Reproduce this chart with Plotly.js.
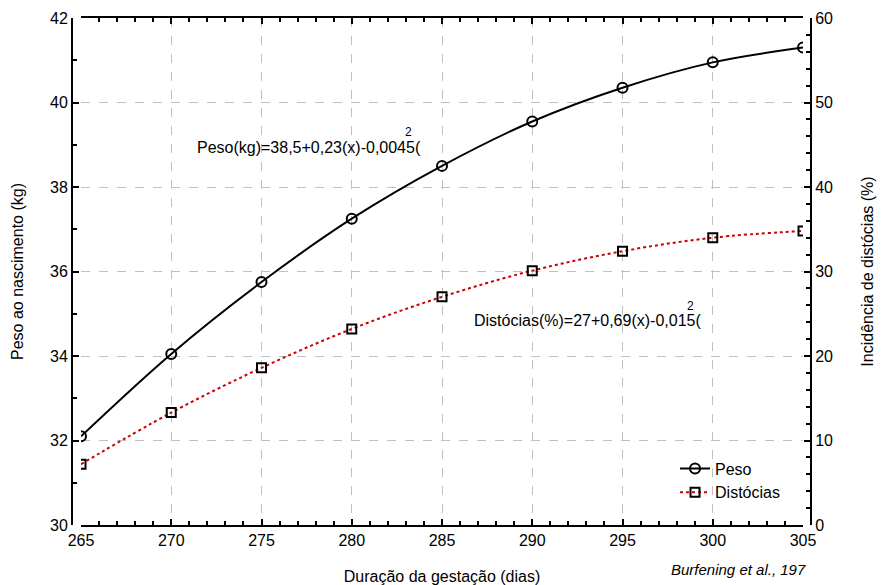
<!DOCTYPE html>
<html>
<head>
<meta charset="utf-8">
<script src="https://cdn.plot.ly/plotly-3.0.1.min.js"></script>
<style>html,body{margin:0;padding:0;background:#fff;}#chart{width:882px;height:585px;}</style>
</head>
<body>
<div id="chart"></div>
<script>
// Data
const dias = [265, 270, 275, 280, 285, 290, 295, 300, 305];
const peso = [32.1, 34.05, 35.75, 37.25, 38.5, 39.55, 40.35, 40.95, 41.3];
const distocias = [7.2, 13.3, 18.6, 23.2, 27.0, 30.1, 32.4, 34.0, 34.8];
const serieNomes = ['Peso', 'Distócias'];
const eqPeso = 'Peso(kg)=38,5+0,23(x)-0,0045(';
const eqDist = 'Distócias(%)=27+0,69(x)-0,015(';
const fonte = 'Burfening et al., 197';

const FONT = 'Liberation Sans, Arial, Helvetica, sans-serif';
const W = 882, H = 585;
const L = 72, R = 71, T = 18, B = 60;
const pw = W - L - R;

const traces = [
  {
    x: dias, y: peso, name: serieNomes[0], type: 'scatter', mode: 'lines+markers',
    line: {color: '#000000', width: 2, shape: 'spline'},
    marker: {symbol: 'circle-open', size: 10, color: '#000000', line: {width: 2, color: '#000000'}}
  },
  {
    x: dias, y: distocias, name: serieNomes[1], type: 'scatter', mode: 'lines+markers', yaxis: 'y2',
    line: {color: '#cc0000', width: 2, dash: 'dot', shape: 'spline'},
    marker: {symbol: 'square-open', size: 9, color: '#000000', line: {width: 2, color: '#000000'}}
  }
];

const axisCommon = {
  showline: true, linecolor: '#000000', linewidth: 2,
  ticks: 'inside', ticklen: 6, tickwidth: 2, tickcolor: '#000000',
  tickfont: {family: FONT, size: 16, color: '#000'},
  zeroline: false
};

const layout = {
  width: W, height: H,
  margin: {l: L, r: R, t: T, b: B, pad: 0},
  paper_bgcolor: '#fff', plot_bgcolor: '#fff',
  font: {family: FONT, size: 16, color: '#000'},
  showlegend: true,
  legend: {
    x: 0.816, y: 0.145, xanchor: 'left', yanchor: 'top',
    bgcolor: 'rgba(0,0,0,0)', borderwidth: 0,
    font: {family: FONT, size: 16, color: '#000'},
    tracegroupgap: 0, itemwidth: 30
  },
  xaxis: Object.assign({}, axisCommon, {
    domain: [9 / pw, 1 - 8 / pw],
    range: [265, 305], dtick: 5, tick0: 265,
    mirror: 'ticks',
    showgrid: true, gridcolor: '#c0c0c0', gridwidth: 1, griddash: 'dash',
    minor: {dtick: 1, ticks: 'inside', ticklen: 4, tickwidth: 2, tickcolor: '#000000', showgrid: false},
    title: {text: 'Duração da gestação (dias)', font: {family: FONT, size: 16, color: '#000'}, standoff: 23}
  }),
  yaxis: Object.assign({}, axisCommon, {
    anchor: 'free', position: 0, side: 'left',
    range: [30, 42], dtick: 2, tick0: 30,
    showgrid: true, gridcolor: '#c0c0c0', gridwidth: 1, griddash: 'dash',
    minor: {dtick: 1, ticks: 'inside', ticklen: 4, tickwidth: 2, tickcolor: '#000000', showgrid: false},
    title: {text: 'Peso ao nascimento (kg)', font: {family: FONT, size: 16, color: '#000'}, standoff: 21}
  }),
  yaxis2: Object.assign({}, axisCommon, {
    anchor: 'free', position: 1, side: 'right', overlaying: 'y',
    range: [0, 60], dtick: 10, tick0: 0,
    showgrid: false,
    minor: {dtick: 2, ticks: 'inside', ticklen: 4, tickwidth: 2, tickcolor: '#000000', showgrid: false},
    title: {text: 'Incidência de distócias (%)', font: {family: FONT, size: 16, color: '#000'}, standoff: 29}
  }),
  annotations: [
    {xref: 'x', yref: 'y', x: 271.3, y: 38.94, xanchor: 'left', yanchor: 'middle', text: eqPeso, showarrow: false,
     font: {family: FONT, size: 16, color: '#000'}},
    {xref: 'x', yref: 'y', x: 283.17, y: 39.3, xanchor: 'center', yanchor: 'middle', text: '2', showarrow: false,
     font: {family: FONT, size: 12, color: '#000'}},
    {xref: 'x', yref: 'y', x: 286.66, y: 34.84, xanchor: 'left', yanchor: 'middle', text: eqDist, showarrow: false,
     font: {family: FONT, size: 16, color: '#000'}},
    {xref: 'x', yref: 'y', x: 298.74, y: 35.19, xanchor: 'center', yanchor: 'middle', text: '2', showarrow: false,
     font: {family: FONT, size: 12, color: '#000'}},
    {xref: 'paper', yref: 'paper', x: 0.996, y: -0.087, xanchor: 'right', yanchor: 'middle', text: '<i>' + fonte + '</i>',
     showarrow: false, font: {family: FONT, size: 15, color: '#000'}}
  ]
};

Plotly.newPlot('chart', traces, layout, {displayModeBar: false, staticPlot: true});
</script>
</body>
</html>
